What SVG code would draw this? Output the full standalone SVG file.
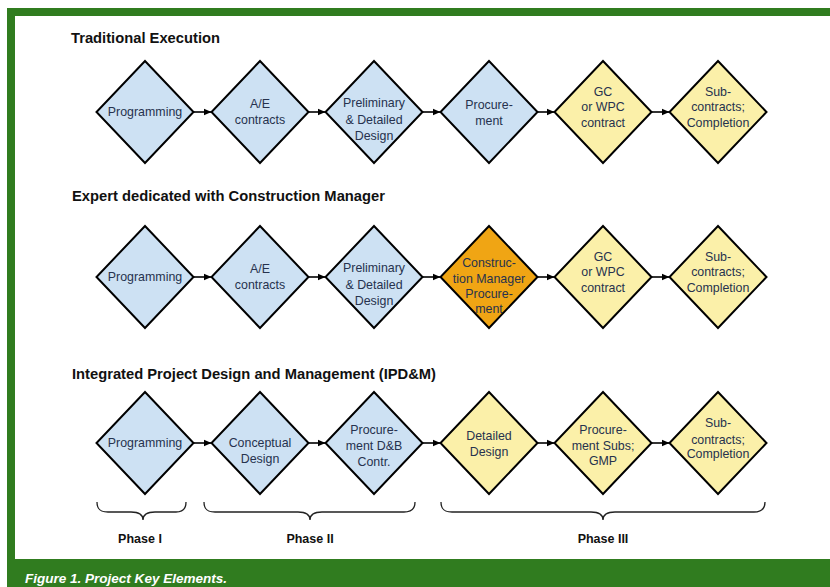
<svg xmlns="http://www.w3.org/2000/svg" width="830" height="587" viewBox="0 0 830 587">
  <style>
    .frame { fill: #307c1f; }
    .title { font-family: "Liberation Sans", Arial, sans-serif; font-weight: bold; font-size: 14.5px; fill: #111; }
    .node { stroke: #000; stroke-width: 2; stroke-linejoin: miter; }
    .blue { fill: #cde1f3; }
    .yellow { fill: #fbf0a9; }
    .orange { fill: #f0a514; }
    .lbl { font-family: "Liberation Sans", Arial, sans-serif; font-size: 12.4px; fill: #26324e; text-anchor: middle; }
    .conn { stroke: #000; stroke-width: 1.6; fill: none; marker-end: url(#arrow); }
    .brace { stroke: #222; stroke-width: 1.3; fill: none; }
    .phase { font-family: "Liberation Sans", Arial, sans-serif; font-weight: bold; font-size: 12.5px; fill: #111; text-anchor: middle; }
    .caption { font-family: "Liberation Sans", Arial, sans-serif; font-weight: bold; font-style: italic; font-size: 13.5px; fill: #fff; }
  </style>
  <defs>
    <marker id="arrow" viewBox="0 0 8 8" refX="8" refY="4" markerWidth="8" markerHeight="8" markerUnits="userSpaceOnUse" orient="auto">
      <path d="M0,0.5 L8,4 L0,7.5 Z" fill="#000"/>
    </marker>
    <polygon id="dia" points="0,-51 48.5,0 0,51 -48.5,0"/>
  </defs>

  <!-- background and frame -->
  <rect x="0" y="0" width="830" height="587" fill="#fff"/>
  <rect class="frame" x="7" y="8" width="823" height="8"/>
  <rect class="frame" x="7" y="8" width="8" height="579"/>
  <rect class="frame" x="7" y="559" width="823" height="28"/>
  <text class="caption" x="25" y="583" textLength="202" lengthAdjust="spacingAndGlyphs">Figure 1. Project Key Elements.</text>

  <!-- row titles -->
  <text class="title" x="71" y="43" textLength="149" lengthAdjust="spacingAndGlyphs">Traditional Execution</text>
  <text class="title" x="72" y="201" textLength="313" lengthAdjust="spacingAndGlyphs">Expert dedicated with Construction Manager</text>
  <text class="title" x="72" y="379" textLength="364" lengthAdjust="spacingAndGlyphs">Integrated Project Design and Management (IPD&amp;M)</text>

  <!-- connectors -->
  <g id="connectors">
    <line class="conn" x1="193.5" y1="112" x2="211.5" y2="112"/>
    <line class="conn" x1="308.5" y1="112" x2="325.5" y2="112"/>
    <line class="conn" x1="422.5" y1="112" x2="440.5" y2="112"/>
    <line class="conn" x1="537.5" y1="112" x2="554.5" y2="112"/>
    <line class="conn" x1="651.5" y1="112" x2="669.5" y2="112"/>

    <line class="conn" x1="193.5" y1="277" x2="211.5" y2="277"/>
    <line class="conn" x1="308.5" y1="277" x2="325.5" y2="277"/>
    <line class="conn" x1="422.5" y1="277" x2="440.5" y2="277"/>
    <line class="conn" x1="537.5" y1="277" x2="554.5" y2="277"/>
    <line class="conn" x1="651.5" y1="277" x2="669.5" y2="277"/>

    <line class="conn" x1="193.5" y1="443" x2="211.5" y2="443"/>
    <line class="conn" x1="308.5" y1="443" x2="325.5" y2="443"/>
    <line class="conn" x1="422.5" y1="443" x2="440.5" y2="443"/>
    <line class="conn" x1="537.5" y1="443" x2="554.5" y2="443"/>
    <line class="conn" x1="651.5" y1="443" x2="669.5" y2="443"/>
  </g>

  <!-- Traditional Execution -->
  <g id="t-programming" transform="translate(145,112)">
    <use href="#dia" class="node blue"/>
    <text class="lbl" y="4">Programming</text>
  </g>
  <g id="t-ae" transform="translate(260,112)">
    <use href="#dia" class="node blue"/>
    <text class="lbl" y="-4">A/E</text>
    <text class="lbl" y="12">contracts</text>
  </g>
  <g id="t-design" transform="translate(374,112)">
    <use href="#dia" class="node blue"/>
    <text class="lbl" y="-5">Preliminary</text>
    <text class="lbl" y="12">&amp; Detailed</text>
    <text class="lbl" y="28">Design</text>
  </g>
  <g id="t-procurement" transform="translate(489,112)">
    <use href="#dia" class="node blue"/>
    <text class="lbl" y="-3">Procure-</text>
    <text class="lbl" y="13">ment</text>
  </g>
  <g id="t-gc" transform="translate(603,112)">
    <use href="#dia" class="node yellow"/>
    <text class="lbl" y="-16">GC</text>
    <text class="lbl" y="-1">or WPC</text>
    <text class="lbl" y="15">contract</text>
  </g>
  <g id="t-sub" transform="translate(718,112)">
    <use href="#dia" class="node yellow"/>
    <text class="lbl" y="-16">Sub-</text>
    <text class="lbl" y="-1">contracts;</text>
    <text class="lbl" y="15">Completion</text>
  </g>

  <!-- Expert dedicated with Construction Manager -->
  <g id="c-programming" transform="translate(145,277)">
    <use href="#dia" class="node blue"/>
    <text class="lbl" y="4">Programming</text>
  </g>
  <g id="c-ae" transform="translate(260,277)">
    <use href="#dia" class="node blue"/>
    <text class="lbl" y="-4">A/E</text>
    <text class="lbl" y="12">contracts</text>
  </g>
  <g id="c-design" transform="translate(374,277)">
    <use href="#dia" class="node blue"/>
    <text class="lbl" y="-5">Preliminary</text>
    <text class="lbl" y="12">&amp; Detailed</text>
    <text class="lbl" y="28">Design</text>
  </g>
  <g id="c-cm" transform="translate(489,277)">
    <use href="#dia" class="node orange"/>
    <text class="lbl" y="-10">Construc-</text>
    <text class="lbl" y="6">tion Manager</text>
    <text class="lbl" y="21">Procure-</text>
    <text class="lbl" y="36">ment</text>
  </g>
  <g id="c-gc" transform="translate(603,277)">
    <use href="#dia" class="node yellow"/>
    <text class="lbl" y="-16">GC</text>
    <text class="lbl" y="-1">or WPC</text>
    <text class="lbl" y="15">contract</text>
  </g>
  <g id="c-sub" transform="translate(718,277)">
    <use href="#dia" class="node yellow"/>
    <text class="lbl" y="-16">Sub-</text>
    <text class="lbl" y="-1">contracts;</text>
    <text class="lbl" y="15">Completion</text>
  </g>

  <!-- Integrated Project Design and Management -->
  <g id="i-programming" transform="translate(145,443)">
    <use href="#dia" class="node blue"/>
    <text class="lbl" y="4">Programming</text>
  </g>
  <g id="i-conceptual" transform="translate(260,443)">
    <use href="#dia" class="node blue"/>
    <text class="lbl" y="4">Conceptual</text>
    <text class="lbl" y="20">Design</text>
  </g>
  <g id="i-procurement" transform="translate(374,443)">
    <use href="#dia" class="node blue"/>
    <text class="lbl" y="-9">Procure-</text>
    <text class="lbl" y="7">ment D&amp;B</text>
    <text class="lbl" y="23">Contr.</text>
  </g>
  <g id="i-detailed" transform="translate(489,443)">
    <use href="#dia" class="node yellow"/>
    <text class="lbl" y="-3">Detailed</text>
    <text class="lbl" y="13">Design</text>
  </g>
  <g id="i-subs" transform="translate(603,443)">
    <use href="#dia" class="node yellow"/>
    <text class="lbl" y="-9">Procure-</text>
    <text class="lbl" y="7">ment Subs;</text>
    <text class="lbl" y="22">GMP</text>
  </g>
  <g id="i-sub" transform="translate(718,443)">
    <use href="#dia" class="node yellow"/>
    <text class="lbl" y="-16">Sub-</text>
    <text class="lbl" y="1">contracts;</text>
    <text class="lbl" y="15">Completion</text>
  </g>

  <!-- phase braces -->
  <g id="phase-1">
    <path class="brace" d="M97,502 C97,509 100,512 108,512 L131,512 C139,512 143,514 143,520 C143,514 147,512 155,512 L176,512 C183,512 186,509 186,502"/>
    <text class="phase" x="140" y="543">Phase I</text>
  </g>
  <g id="phase-2">
    <path class="brace" d="M204,502 C204,509 207,512 215,512 L298,512 C306,512 310,514 310,520 C310,514 314,512 322,512 L404,512 C411,512 415,509 415,502"/>
    <text class="phase" x="310" y="543">Phase II</text>
  </g>
  <g id="phase-3">
    <path class="brace" d="M441,502 C441,509 444,512 452,512 L591,512 C599,512 603,514 603,520 C603,514 607,512 615,512 L754,512 C761,512 765,509 765,502"/>
    <text class="phase" x="603" y="543">Phase III</text>
  </g>
</svg>
